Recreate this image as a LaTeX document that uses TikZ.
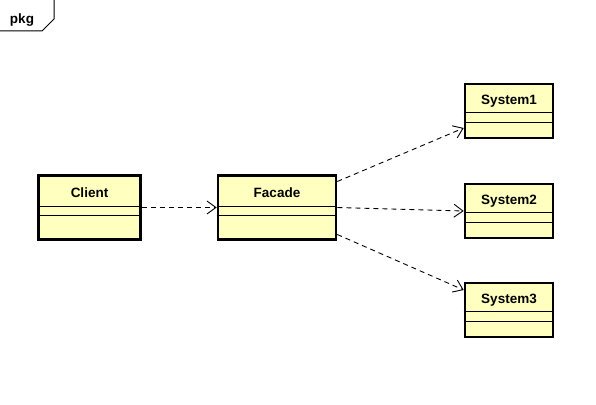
\documentclass[tikz,border=0pt]{standalone}
\usepackage{fontspec}
\setmainfont{Liberation Sans}
\usepackage{tikz}
\usetikzlibrary{arrows.meta,positioning}
\definecolor{classfill}{RGB}{255,255,192}
\tikzset{
  uml-class/.style={draw=black, fill=classfill, line width=2.6pt, inner sep=0pt},
  uml-name/.style={font=\fontsize{13.5}{15}\selectfont\bfseries, inner sep=0pt},
  uml-sep/.style={line width=1pt},
  uml-dep/.style={line width=0.9pt, dash pattern=on 5pt off 4pt,
    -{Straight Barb[length=9pt, width=13pt, line width=0.9pt]}},
  pkg-frame/.style={line width=1pt, line join=miter}
}

\begin{document}
\begin{tikzpicture}[x=1pt, y=-1pt]
  \useasboundingbox (0,0) rectangle (596,404);

  % package tab
  \draw[pkg-frame] (54,0) -- (54,19) -- (42,31) -- (0,31);
  \node[uml-name, anchor=base] (pkg) at (22,24) {pkg};

  % classes
  \node[uml-class, minimum width=102pt, minimum height=64pt] (client) at (89.5,207.5) {};
  \node[uml-class, minimum width=118pt, minimum height=64pt] (facade) at (277,207.5) {};
  \node[uml-class, minimum width=88pt, minimum height=54pt] (system1) at (509,111) {};
  \node[uml-class, minimum width=88pt, minimum height=54pt] (system2) at (509,211) {};
  \node[uml-class, minimum width=88pt, minimum height=54pt] (system3) at (509,310) {};

  % compartments
  \foreach \cls/\name/\first/\second/\base in {client/Client/32/41/23, facade/Facade/32/41/23,
      system1/System1/30/40/22, system2/System2/30/40/22, system3/System3/30/40/22} {
    \draw[uml-sep] ([yshift=-\first pt]\cls.north west) -- ([yshift=-\first pt]\cls.north east);
    \draw[uml-sep] ([yshift=-\second pt]\cls.north west) -- ([yshift=-\second pt]\cls.north east);
    \node[uml-name, anchor=base] (\cls-label) at ([yshift=-\base pt]\cls.north) {\name};
  }

  % dependencies
  \draw[uml-dep] (client.east) -- (facade.west);
  \draw[uml-dep] ([yshift=26pt]facade.east) -- ([yshift=-17pt]system1.west);
  \draw[uml-dep] (facade.east) -- (system2.west);
  \draw[uml-dep] ([yshift=-27pt]facade.east) -- ([yshift=20pt]system3.west);
\end{tikzpicture}
\end{document}
